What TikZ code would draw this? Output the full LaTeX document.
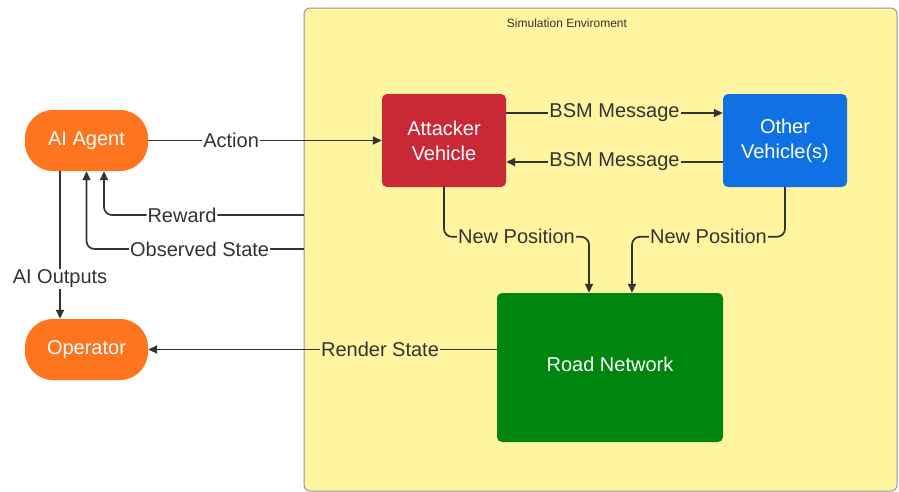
\documentclass[tikz,border=0pt]{standalone}
\usepackage{fontspec}
\setmainfont{Liberation Sans}
\usepackage{tikz}
\definecolor{colagent}{RGB}{255,117,31}
\definecolor{colattack}{RGB}{201,40,55}
\definecolor{colother}{RGB}{16,113,229}
\definecolor{colroad}{RGB}{0,133,15}
\definecolor{colsim}{RGB}{255,245,160}
\definecolor{colframe}{RGB}{150,150,150}
\definecolor{colline}{RGB}{51,51,51}
\usetikzlibrary{
	arrows.meta
}
\tikzset{
	>={Triangle[length=9pt,width=8pt]},
	link/.style={->, line width=1.7pt, draw=colline},
	elbow/.style={link, rounded corners=8pt},
	tag/.style={fill=white, text=colline, inner sep=1pt, font=\fontsize{20}{24}\selectfont},
	tagsim/.style={tag, fill=colsim},
	agentbox/.style={rectangle, rounded corners=28pt, fill=colagent, text=white,
		minimum width=123pt, minimum height=61pt, font=\fontsize{20}{24}\selectfont},
	vehiclebox/.style={rectangle, rounded corners=5pt, text=white, align=center,
		minimum width=124pt, minimum height=93pt, font=\fontsize{20}{25}\selectfont}
}

\begin{document}
\begin{tikzpicture}[x=1pt, y=-1pt]
	\useasboundingbox[fill=white] (0,0) rectangle (899,491);
	% simulation area
	\node[rectangle, rounded corners=6pt, fill=colsim, draw=colframe, line width=1pt,
		minimum width=593pt, minimum height=483pt] (sim) at (600.5,249.5) {};
	\node[text=colline, font=\fontsize{12}{14}\selectfont] (simtitle) at (567,23) {Simulation Enviroment};
	% blocks
	\node[agentbox] (agent) at (86.5,140.5) {AI Agent};
	\node[agentbox] (operator) at (86.5,349.5) {Operator};
	\node[vehiclebox, fill=colattack] (attacker) at (444,140.5) {Attacker\\Vehicle};
	\node[vehiclebox, fill=colother] (other) at (785,140.5) {Other\\Vehicle(s)};
	\node[vehiclebox, fill=colroad, minimum width=226pt, minimum height=149pt] (road) at (610,367.5) {};
	\node[text=white, font=\fontsize{20}{24}\selectfont] (roadname) at (610,364.5) {Road Network};
	\coordinate (rewardin) at (304,215);
	\coordinate (observein) at (304,249);
	% connectors
	\draw[link] (agent.east) -- node[tag, pos=0.355]{Action} (attacker.west);
	\draw[link] ([yshift=27.5pt]attacker.east) -- node[tagsim]{BSM Message} ([yshift=27.5pt]other.west);
	\draw[link] ([yshift=-21.5pt]other.west) -- node[tagsim]{BSM Message} ([yshift=-21.5pt]attacker.east);
	\draw[elbow] (rewardin) -| node[tag, pos=0.305]{Reward} ([xshift=17.5pt]agent.south);
	\draw[elbow] (observein) -| node[tag, pos=0.24]{Observed State} (agent.south);
	\draw[link] ([xshift=-26.5pt]agent.south) -- node[tag, pos=0.73]{AI Outputs} ([xshift=-26.5pt]operator.north);
	\draw[link] (road.west |- operator.east) -- node[tagsim, pos=0.335]{Render State} (operator.east);
	\draw[elbow] (attacker.south) |- node[tagsim, pos=0.75]{New Position}
		([xshift=-21pt, yshift=56pt]road.north) -- ([xshift=-21pt]road.north);
	\draw[elbow] (other.south) |- node[tagsim, pos=0.75]{New Position}
		([xshift=22pt, yshift=56pt]road.north) -- ([xshift=22pt]road.north);
\end{tikzpicture}
\end{document}
